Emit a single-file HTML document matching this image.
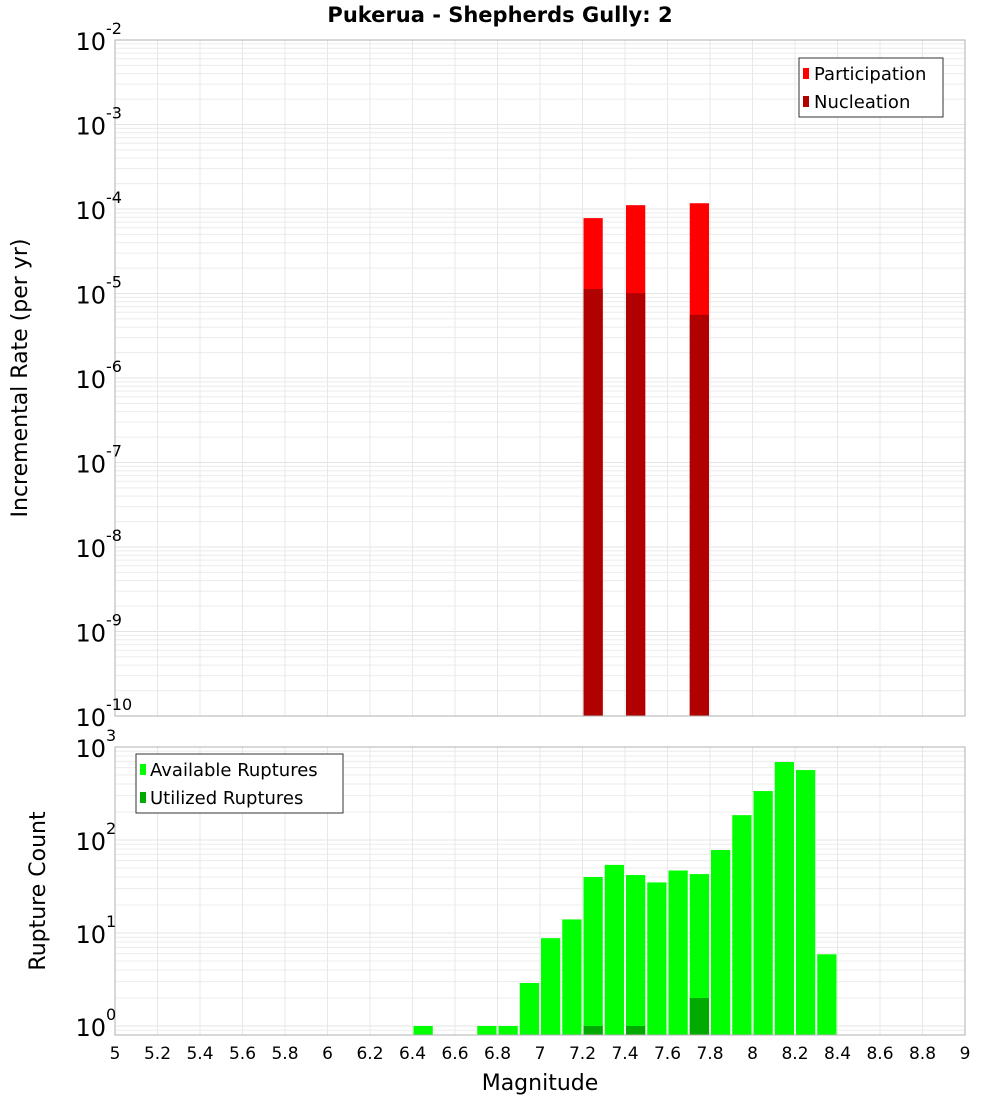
<!DOCTYPE html>
<html><head><meta charset="utf-8"><style>
body{margin:0;background:#fff;}
svg{display:block;font-family:"DejaVu Sans","Liberation Sans",sans-serif;}
</style></head><body>
<svg id="c" width="1000" height="1100"></svg>
<script>
const topMags=[7.25,7.45,7.75];
const participation=[7.8e-5,1.11e-4,1.17e-4];
const nucleation=[1.13e-5,1.01e-5,5.6e-6];
const botMags=[6.45,6.75,6.85,6.95,7.05,7.15,7.25,7.35,7.45,7.55,7.65,7.75,7.85,7.95,8.05,8.15,8.25,8.35];
const available=[1,1,1,2.9,8.8,14,40,54,42,35,47,43,78,185,336,690,565,5.9];
const utilMags=[7.25,7.45,7.75];
const utilized=[1,1,2];
const xTicks=[5,5.2,5.4,5.6,5.8,6,6.2,6.4,6.6,6.8,7,7.2,7.4,7.6,7.8,8,8.2,8.4,8.6,8.8,9];
const topDecades=[-2,-3,-4,-5,-6,-7,-8,-9,-10];
const botDecades=[3,2,1,0];

const NS='http://www.w3.org/2000/svg';
const svg=document.getElementById('c');
function el(t,a,p){const e=document.createElementNS(NS,t);for(const k in a)e.setAttribute(k,a[k]);(p||svg).appendChild(e);return e;}
const X0=115,X1=965;
const xs=m=>X0+(m-5)/4*(X1-X0);
const T0=40,T1=716;
const ty=v=>T0+(-2-Math.log10(v))/8*(T1-T0);
const B0=747,Bz=1026,B1=1035;
const by=v=>Bz-Math.log10(v)*((Bz-B0)/3);

function grid(y0,y1,lo,hi,yf,name){
  const g=el('g',{});
  
  
  for(let d=lo;d<hi;d++)for(let k=1;k<10;k++){
    const y=yf(k*Math.pow(10,d));
    if(y<y0-0.1||y>y1+0.1)continue;
    el('line',{x1:X0,x2:X1,y1:y,y2:y,stroke:k==1?'#e4e4e4':'#ececec','stroke-width':1},g);
  }
  xTicks.forEach(t=>{const x=xs(t);el('line',{x1:x,x2:x,y1:y0,y2:y1,stroke:'#e8e8e8'},g);});
}
// title
const title=el('text',{x:500,y:22,'text-anchor':'middle','font-size':21,'font-weight':'bold'});
title.textContent='Pukerua - Shepherds Gully: 2';



// top plot
grid(T0,T1,-10,-2,ty,'top-grid');
const bw=(X1-X0)/40;
topMags.forEach((m,i)=>{
  const x=xs(m)-bw/2+1;
  const r=el('rect',{x:x,y:ty(participation[i]),width:bw-2,height:T1-ty(participation[i]),fill:'#ff0000'});
  
  
  const n=el('rect',{x:x,y:ty(nucleation[i]),width:bw-2,height:T1-ty(nucleation[i]),fill:'#b00000'});
  
  
});
el('rect',{x:X0,y:T0,width:X1-X0,height:T1-T0,fill:'none',stroke:'#b0b0b0'});
topDecades.forEach(d=>{
  const y=ty(Math.pow(10,d));
  const t=el('text',{x:106,y:y+10,'text-anchor':'end','font-size':24});
  t.textContent='10';
  
  
  const s=el('text',{x:106,y:y-6,'font-size':16});
  s.textContent=String(d);
  
  
});
const yt=el('text',{transform:'translate(27,378) rotate(-90)','text-anchor':'middle','font-size':22});
yt.textContent='Incremental Rate (per yr)';


// top legend
const lg=el('g',{});


el('rect',{x:799,y:58,width:144,height:59,fill:'#fff',stroke:'#333'},lg);
el('rect',{x:803,y:68,width:6,height:11,fill:'#ff0000'},lg);
el('rect',{x:803,y:96,width:6,height:11,fill:'#b00000'},lg);
const l1=el('text',{x:814,y:80,'font-size':18},lg);l1.textContent='Participation';
const l2=el('text',{x:814,y:108,'font-size':18},lg);l2.textContent='Nucleation';

// bottom plot
grid(B0,B1,-1,3,by,'bottom-grid');
botMags.forEach((m,i)=>{
  const x=xs(m)-bw/2+1;
  const r=el('rect',{x:x,y:by(available[i]),width:bw-2,height:B1-by(available[i]),fill:'#00ff00'});
  
  
});
utilMags.forEach((m,i)=>{
  const x=xs(m)-bw/2+1;
  const r=el('rect',{x:x,y:by(utilized[i]),width:bw-2,height:B1-by(utilized[i]),fill:'#00aa00'});
  
  
});
el('rect',{x:X0,y:B0,width:X1-X0,height:B1-B0,fill:'none',stroke:'#b0b0b0'});
botDecades.forEach(d=>{
  const y=by(Math.pow(10,d));
  const t=el('text',{x:106,y:y+10,'text-anchor':'end','font-size':24});
  t.textContent='10';
  
  
  const s=el('text',{x:106,y:y-6,'font-size':16});
  s.textContent=String(d);
  
  
});
const yb=el('text',{transform:'translate(45,891) rotate(-90)','text-anchor':'middle','font-size':22});
yb.textContent='Rupture Count';


xTicks.forEach(t=>{
  const tx=el('text',{x:xs(t),y:1059,'text-anchor':'middle','font-size':17});
  tx.textContent=String(t);
  
  
});
const xt=el('text',{x:540,y:1090,'text-anchor':'middle','font-size':22});
xt.textContent='Magnitude';


const bl=el('g',{});


el('rect',{x:136,y:754,width:207,height:59,fill:'#fff',stroke:'#333'},bl);
el('rect',{x:140,y:764,width:6,height:11,fill:'#00ff00'},bl);
el('rect',{x:140,y:792,width:6,height:11,fill:'#00aa00'},bl);
const b1=el('text',{x:150,y:776,'font-size':18},bl);b1.textContent='Available Ruptures';
const b2=el('text',{x:150,y:804,'font-size':18},bl);b2.textContent='Utilized Ruptures';
</script>
</body></html>
